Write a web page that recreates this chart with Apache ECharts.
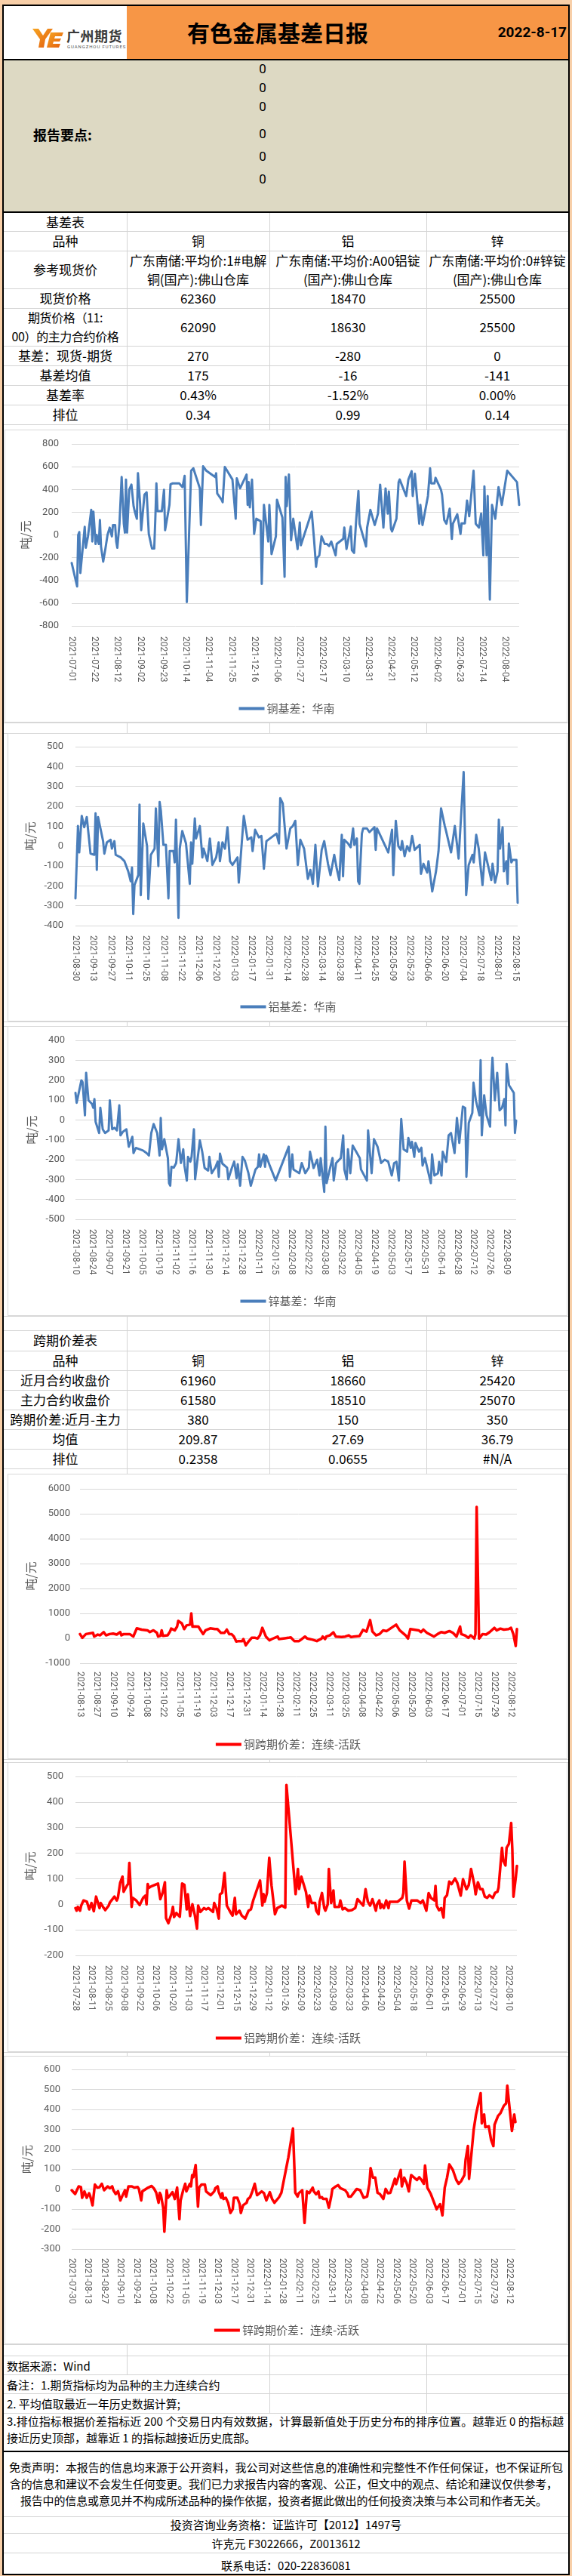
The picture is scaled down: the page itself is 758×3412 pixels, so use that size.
<!DOCTYPE html>
<html><head><meta charset="utf-8">
<script src="https://cdn.jsdelivr.net/npm/echarts/dist/echarts.min.js"></script>
<style>
html,body{margin:0;padding:0;}
body{width:758px;height:3412px;background:#F8CFA8;position:relative;overflow:hidden;font-family:"Noto Sans CJK SC","Noto Sans",sans-serif;color:#000;}
.a{position:absolute;}
.t{position:absolute;display:flex;align-items:center;justify-content:center;text-align:center;white-space:nowrap;line-height:1.45;}
.l{justify-content:flex-start;text-align:left;}
.chart{position:absolute;background:#fff;border:1px solid #D9D9D9;box-sizing:border-box;}
</style></head>
<body>
<div id="root"></div>
<script>
// ---------------- DATA ----------------
const reportDate = '2022-8-17';
const metals = ['铜', '铝', '锌'];
const spotRefs = ['广东南储:平均价:1#电解<br>铜(国产):佛山仓库', '广东南储:平均价:A00铝锭<br>(国产):佛山仓库', '广东南储:平均价:0#锌锭<br>(国产):佛山仓库'];
const spotPrice = ['62360', '18470', '25500'];
const futPrice = ['62090', '18630', '25500'];
const basis = ['270', '-280', '0'];
const basisMean = ['175', '-16', '-141'];
const basisRate = ['0.43%', '-1.52%', '0.00%'];
const basisRank = ['0.34', '0.99', '0.14'];
const nearClose = ['61960', '18660', '25420'];
const mainClose = ['61580', '18510', '25070'];
const calSpread = ['380', '150', '350'];
const calMean = ['209.87', '27.69', '36.79'];
const calRank = ['0.2358', '0.0655', '#N/A'];

// series points: [days since the chart's first date, value in 元/吨]
const cuBasis = [[0,-247],[5,-453],[6,0],[7,25],[8,-335],[12,71],[13,-113],[15,-13],[18,220],[19,-58],[20,204],[22,-80],[23,0],[25,-80],[26,131],[27,-102],[29,-235],[31,-124],[33,0],[35,64],[37,-13],[38,87],[40,87],[41,-58],[42,-113],[44,98],[46,509],[48,98],[49,20],[50,487],[51,20],[52,20],[53,398],[55,442],[57,253],[58,209],[60,142],[61,542],[63,275],[64,42],[67,353],[69,375],[71,9],[73,-80],[74,-120],[76,-120],[77,140],[78,453],[79,209],[83,209],[85,397],[86,42],[90,264],[91,446],[93,453],[99,453],[102,420],[104,520],[106,-591],[110,564],[112,586],[118,409],[119,87],[121,604],[124,564],[132,509],[133,542],[134,364],[138,309],[139,287],[141,598],[148,487],[151,142],[152,498],[155,409],[161,531],[162,264],[163,464],[164,242],[166,487],[168,9],[170,142],[174,120],[175,-431],[177,264],[181,-58],[182,264],[184,-169],[188,-13],[189,309],[194,153],[196,-369],[197,509],[198,253],[200,531],[202,-47],[204,142],[208,-124],[210,109],[211,-91],[221,204],[223,-24],[225,-280],[226,-202],[228,-180],[230,-13],[233,-80],[235,-80],[237,-98],[239,-58],[243,-180],[244,-80],[250,-35],[251,64],[253,-124],[257,75],[258,-135],[260,-158],[262,142],[264,386],[265,98],[271,-102],[272,64],[275,220],[279,87],[282,187],[284,442],[287,64],[289,409],[291,187],[292,382],[294,53],[295,31],[299,142],[301,464],[302,487],[308,342],[310,487],[313,560],[314,342],[316,538],[320,98],[321,264],[323,87],[328,342],[330,586],[331,453],[334,453],[335,502],[340,398],[341,353],[343,131],[345,98],[348,231],[350,-35],[351,98],[355,182],[358,9],[359,102],[362,102],[364,302],[366,164],[370,564],[372,98],[375,64],[377,187],[379,-180],[380,427],[382,-180],[383,342],[385,-569],[387,264],[390,142],[393,420],[396,264],[401,564],[410,464],[412,264]];

const alBasis = [[0,-263],[2,101],[3,-32],[5,152],[7,95],[9,146],[12,-38],[15,-44],[16,165],[17,-120],[18,146],[22,25],[23,-38],[25,19],[28,32],[29,-13],[31,25],[32,-44],[36,-57],[39,-76],[42,-127],[44,-177],[45,-108],[46,-342],[47,-196],[50,-146],[51,209],[52,-247],[54,114],[57,0],[58,-266],[60,-44],[63,-13],[64,190],[66,-101],[67,222],[68,177],[70,6],[72,6],[74,-263],[75,-25],[78,-25],[79,-82],[80,133],[82,-361],[83,-13],[85,76],[88,13],[91,-190],[92,19],[93,-89],[95,139],[96,38],[99,101],[101,-57],[102,-13],[105,-76],[107,38],[109,-95],[112,-57],[114,19],[115,-76],[117,19],[119,-13],[121,95],[123,-76],[125,-95],[129,-57],[130,-184],[134,152],[135,146],[137,32],[140,44],[141,-25],[143,82],[146,44],[148,51],[150,-114],[152,25],[160,63],[162,13],[163,241],[165,215],[168,-13],[171,89],[173,101],[175,127],[177,-95],[179,32],[182,-13],[185,-165],[187,-120],[189,-190],[191,6],[193,-203],[196,-19],[198,25],[201,-89],[203,-146],[206,-44],[208,-114],[210,-171],[212,57],[213,-152],[214,32],[217,13],[219,-6],[221,89],[222,6],[224,38],[225,-177],[226,-190],[228,63],[229,89],[232,89],[234,70],[238,95],[239,-19],[240,89],[242,63],[249,-32],[252,82],[253,-146],[255,127],[257,0],[259,-19],[260,25],[262,-51],[264,0],[266,-25],[268,51],[270,-19],[274,6],[275,-140],[277,-89],[280,-133],[281,-76],[284,-228],[287,-127],[289,-25],[291,190],[294,101],[295,76],[299,-32],[302,101],[305,-63],[309,373],[311,-247],[313,-95],[316,-44],[317,-82],[319,57],[321,-13],[324,-196],[326,-32],[329,-114],[331,-171],[332,-89],[334,-184],[336,-127],[337,133],[338,-13],[340,95],[341,-127],[343,-76],[344,-190],[345,13],[347,-82],[348,-70],[351,-70],[352,-285]];

const znBasis = [[0,136],[1,86],[5,199],[6,190],[8,23],[9,237],[11,98],[14,80],[15,61],[16,105],[17,-9],[20,-66],[21,61],[23,-47],[25,-66],[28,-53],[29,98],[31,-47],[33,-40],[35,-53],[37,73],[38,-78],[40,-60],[43,-47],[45,-135],[48,-85],[49,-167],[51,-141],[57,-154],[60,-167],[62,-179],[64,-66],[66,-21],[69,-66],[71,-179],[72,10],[73,-148],[75,-97],[78,-192],[79,-318],[80,-331],[81,-236],[83,-240],[85,-217],[87,-97],[89,-217],[91,-148],[92,-230],[94,-305],[95,-186],[97,-210],[98,-186],[100,-47],[101,-299],[105,-103],[107,-160],[109,-242],[112,-255],[113,-186],[115,-268],[118,-240],[120,-210],[121,-286],[122,-170],[124,-220],[128,-240],[129,-299],[132,-242],[134,-210],[136,-293],[137,-223],[139,-331],[141,-186],[143,-205],[146,-268],[148,-331],[152,-249],[154,-236],[155,-173],[156,-236],[159,-173],[160,-236],[161,-180],[164,-230],[169,-305],[180,-135],[181,-286],[183,-173],[184,-249],[189,-268],[191,-217],[194,-268],[197,-240],[198,-160],[201,-242],[204,-200],[206,-280],[207,-192],[210,-362],[211,-34],[212,-318],[215,-240],[217,-192],[218,-305],[220,-217],[224,-192],[226,-78],[227,-250],[229,-299],[230,-148],[232,-268],[234,-129],[237,-160],[240,-192],[241,-249],[246,-305],[247,-53],[250,-268],[252,-97],[255,-135],[258,-217],[261,-200],[264,-210],[267,-280],[269,-217],[271,-211],[273,-305],[275,4],[277,-148],[280,-160],[281,-91],[283,-141],[284,-110],[286,-186],[287,-116],[290,-160],[292,-140],[293,-230],[295,-192],[300,-318],[301,-173],[303,-280],[306,-268],[307,-211],[309,-280],[310,-160],[313,-211],[315,-78],[317,-66],[320,-167],[322,10],[324,-116],[327,67],[329,60],[330,-286],[332,-15],[335,35],[336,187],[338,98],[341,23],[342,300],[343,-78],[345,124],[347,23],[350,-34],[351,199],[352,313],[354,98],[356,237],[358,48],[360,60],[362,105],[363,-28],[364,281],[366,174],[370,136],[371,-66],[372,-3]];

const cuSpread = [[0,170],[2,20],[5,170],[11,220],[12,70],[15,150],[17,120],[20,250],[22,120],[25,170],[26,120],[28,190],[31,150],[34,250],[35,120],[37,170],[42,170],[45,70],[48,400],[52,350],[57,320],[59,250],[62,320],[65,220],[66,70],[68,100],[69,320],[70,100],[74,120],[76,270],[77,390],[80,320],[82,470],[83,700],[86,600],[88,370],[90,520],[93,550],[94,1000],[95,470],[97,480],[100,470],[102,320],[104,170],[106,320],[110,400],[114,370],[116,370],[119,220],[122,220],[124,350],[126,170],[128,170],[130,70],[132,-130],[134,-110],[137,-110],[138,-30],[140,-280],[142,-150],[145,20],[148,20],[150,-10],[152,120],[154,420],[157,70],[160,-80],[162,-30],[167,70],[168,-30],[173,0],[176,20],[178,40],[181,-110],[185,-110],[187,-40],[190,70],[192,-10],[194,-30],[196,-50],[200,-110],[204,-10],[205,70],[207,-30],[208,70],[211,120],[214,240],[216,70],[221,50],[224,70],[227,120],[229,50],[231,70],[236,90],[239,340],[242,270],[245,730],[247,270],[250,120],[253,170],[256,320],[259,290],[267,550],[270,320],[271,370],[275,120],[277,-10],[279,370],[282,350],[286,320],[288,250],[290,350],[293,220],[299,70],[302,170],[305,250],[308,220],[312,290],[315,220],[318,70],[321,470],[322,170],[325,120],[328,20],[330,120],[331,70],[333,-10],[334,170],[335,5270],[337,-10],[340,170],[343,150],[346,250],[350,420],[352,320],[355,390],[358,350],[362,370],[364,420],[366,170],[368,-310],[369,370]];

const alSpread = [[0,-15],[1,-25],[2,-10],[4,-25],[5,-5],[7,15],[10,10],[12,-20],[14,5],[16,-27],[18,30],[21,-15],[22,5],[24,-10],[26,-23],[29,-5],[30,7],[34,30],[36,15],[37,25],[39,84],[41,108],[42,49],[45,74],[46,80],[47,162],[49,-10],[50,25],[53,15],[56,-3],[59,25],[61,34],[62,0],[63,79],[64,64],[66,70],[72,81],[74,20],[76,45],[78,86],[79,-54],[81,-74],[84,-34],[85,-10],[86,-50],[88,-34],[89,-40],[91,-49],[93,81],[95,76],[97,-20],[98,39],[100,-46],[102,0],[104,-40],[106,-95],[107,-5],[109,-30],[112,-15],[114,-20],[116,-15],[120,-30],[121,5],[123,-15],[125,-56],[126,39],[128,45],[130,123],[132,-5],[133,0],[135,-30],[137,-44],[139,25],[140,-39],[143,-25],[145,-44],[148,-56],[151,-25],[153,-20],[155,15],[158,54],[161,93],[163,-5],[164,40],[165,10],[167,44],[169,182],[171,74],[174,-39],[176,-15],[180,-5],[183,-13],[184,467],[192,40],[194,138],[195,60],[197,108],[201,49],[203,-10],[204,34],[206,5],[209,5],[210,-25],[212,-39],[213,10],[215,44],[217,-15],[218,-25],[220,0],[221,138],[223,5],[225,54],[226,-10],[230,-10],[231,15],[233,-20],[235,-15],[238,-25],[241,-23],[244,-15],[246,20],[249,5],[251,-5],[253,59],[255,10],[257,-5],[259,20],[262,-25],[263,0],[265,15],[266,-15],[267,0],[269,-15],[271,15],[273,-15],[274,10],[281,10],[285,25],[286,44],[287,167],[289,15],[291,-17],[293,15],[298,15],[301,5],[303,15],[306,-25],[308,44],[310,25],[313,15],[314,72],[315,-5],[317,-23],[319,-15],[321,-52],[322,25],[324,35],[326,89],[328,79],[331,101],[333,84],[336,34],[338,98],[339,85],[341,59],[343,75],[345,138],[348,74],[349,39],[351,86],[353,59],[355,59],[357,30],[359,25],[361,35],[364,25],[366,45],[368,49],[369,65],[370,118],[372,221],[373,172],[375,152],[376,221],[378,236],[380,318],[381,215],[382,30],[384,104],[385,150]];

const znSpread = [[0,-5],[3,-24],[6,14],[8,10],[9,-43],[11,-11],[13,-43],[15,-20],[16,-35],[18,-81],[20,23],[22,8],[24,10],[26,27],[28,-5],[31,14],[33,5],[35,14],[36,-5],[38,-24],[40,-10],[42,-56],[44,-30],[46,-5],[47,-37],[49,14],[52,14],[54,8],[57,11],[58,1],[60,-56],[61,-11],[66,8],[69,16],[71,4],[73,-18],[75,-68],[76,-18],[77,-30],[79,-93],[80,-213],[82,-5],[83,-43],[85,-30],[87,-15],[89,-49],[91,8],[93,-150],[94,-56],[96,-10],[98,27],[99,-11],[102,27],[103,14],[104,71],[105,60],[107,121],[109,-87],[110,8],[112,23],[115,23],[116,-11],[120,-30],[123,-11],[124,5],[126,14],[127,-15],[129,-43],[130,-20],[131,-49],[133,-43],[135,-68],[137,-119],[139,-100],[140,-43],[143,-43],[145,-75],[146,-119],[148,-80],[151,-68],[152,-50],[154,-40],[156,-10],[158,27],[160,-30],[164,-11],[165,-5],[166,-20],[168,-56],[171,-15],[173,-49],[175,-68],[179,-40],[181,-18],[182,-25],[187,159],[191,304],[193,-18],[195,-37],[196,-20],[199,-5],[201,-169],[203,-11],[205,-20],[206,-15],[208,8],[209,-11],[211,-25],[213,-11],[214,-43],[216,-40],[217,-49],[220,-49],[222,-93],[224,-37],[225,1],[228,14],[230,20],[232,5],[236,-5],[238,-20],[239,-37],[241,-37],[242,-30],[246,1],[249,-5],[252,-43],[255,-37],[257,27],[258,106],[260,58],[262,58],[264,-18],[266,-24],[269,-49],[271,1],[273,-20],[275,-18],[279,52],[280,25],[282,60],[284,96],[285,14],[287,58],[289,33],[291,-11],[293,71],[294,65],[298,46],[300,60],[302,46],[304,27],[305,119],[307,8],[310,-24],[315,-100],[318,-75],[319,-70],[320,-131],[322,8],[324,58],[326,124],[329,96],[332,46],[334,27],[336,39],[339,71],[340,147],[342,216],[343,52],[347,298],[349,374],[353,481],[354,330],[356,374],[357,311],[360,315],[362,248],[364,216],[365,323],[368,367],[370,380],[373,418],[375,430],[376,519],[378,405],[380,292],[382,374],[383,336]];

const chartDefs = [
  {name:'铜基差：华南', start:'2021-07-01', end:'2022-08-17', labelEvery:21, min:-800, max:800, step:200, color:'#4A7EBB', width:3, pts:cuBasis,
   box:[6,569,746,388], grid:[88,65,18,129], ylm:17, xlm:14, ng:49, leg:356},
  {name:'铝基差：华南', start:'2021-08-30', end:'2022-08-17', labelEvery:14, min:-400, max:500, step:100, color:'#4A7EBB', width:3, pts:alBasis,
   box:[10,971,742,382], grid:[89,67,17,128], ylm:16, xlm:13, ng:47, leg:349},
  {name:'锌基差：华南', start:'2021-08-10', end:'2022-08-17', labelEvery:14, min:-500, max:400, step:100, color:'#4A7EBB', width:3, pts:znBasis,
   box:[10,1359,742,384], grid:[89,69,18,129], ylm:14, xlm:13, ng:47, leg:351},
  {name:'铜跨期价差：连续-活跃', start:'2021-08-13', end:'2022-08-17', labelEvery:14, min:-1000, max:6000, step:1000, color:'#FF0000', width:3.5, pts:cuSpread,
   box:[10,1952,742,378], grid:[95,68,19,128], ylm:13, xlm:11, ng:54, leg:345},
  {name:'铝跨期价差：连续-活跃', start:'2021-07-28', end:'2022-08-17', labelEvery:14, min:-200, max:500, step:100, color:'#FF0000', width:3.5, pts:alSpread,
   box:[10,2334,742,384], grid:[89,68,18,129], ylm:16, xlm:13, ng:48, leg:352},
  {name:'锌跨期价差：连续-活跃', start:'2021-07-30', end:'2022-08-17', labelEvery:14, min:-300, max:600, step:100, color:'#FF0000', width:3.5, pts:znSpread,
   box:[6,2723,746,382], grid:[88,70,17,127], ylm:15, xlm:12, ng:47, leg:350}
];

// ---------------- LAYOUT HELPERS ----------------
const root = document.getElementById('root');
function box(l, t, w, h, css) {
  const d = document.createElement('div'); d.className = 'a';
  d.style.cssText = `left:${l}px;top:${t}px;width:${w}px;height:${h}px;` + (css || '');
  root.appendChild(d); return d;
}
function txt(l, t, w, h, html, css, cls) {
  const d = document.createElement('div'); d.className = 't' + (cls ? ' ' + cls : '');
  d.style.cssText = `left:${l}px;top:${t}px;width:${w}px;height:${h}px;` + (css || '');
  d.innerHTML = '<span>' + html + '</span>'; root.appendChild(d); return d;
}
// stretch a single text line to a target width (like Excel's justified cells)
function fit(d, target) {
  const s = d.firstChild; s.style.letterSpacing = '0px';
  const w = s.getBoundingClientRect().width; const n = s.textContent.length;
  const ls = (target - w) / n;
  s.style.letterSpacing = ls.toFixed(3) + 'px';
  if (!d.classList.contains('l')) s.style.marginRight = (-ls).toFixed(3) + 'px';
}
const G = '#D4D4D4';
function hl(y, x1, x2, c, th) { box(x1, y, x2 - x1, th || 1, 'background:' + (c || G)); }
function vl(x, y1, y2, c) { box(x, y1, 1, y2 - y1, 'background:' + (c || G)); }

// sheet
box(3, 6, 752, 3405, 'background:#fff;border:2px solid #000;box-sizing:border-box;');
// header
box(168, 8, 585, 70, 'background:#F79646;');
hl(78, 5, 753, '#000', 2);
txt(168, 8, 400, 70, '有色金属基差日报', 'font-size:30px;font-weight:bold;');
txt(560, 8, 191, 70, reportDate, 'font-size:19px;font-weight:bold;font-family:Roboto,sans-serif;justify-content:flex-end;');
// logo
const lg = document.createElement('div'); lg.className = 'a'; lg.style.cssText = 'left:40px;top:34px;width:46px;height:32px;';
lg.innerHTML = '<svg width="46" height="32" viewBox="0 0 46 32"><defs><linearGradient id="og" x1="0" y1="0" x2="1" y2="1"><stop offset="0" stop-color="#F7A623"/><stop offset="1" stop-color="#E25B0C"/></linearGradient></defs>' +
  '<path d="M3 4 L11 4 L17 13 L23 4 L30 4 L20 18 L18 29 L11 29 L13 18 Z" fill="url(#og)"/>' +
  '<path d="M27 9 L44 9 L42 14 L33 14 L32 17 L41 17 L39 21 L31 21 L30 24 L40 24 L38 29 L22 29 Z" fill="url(#og)"/></svg>';
root.appendChild(lg);
txt(88, 36, 80, 22, '广州期货', 'font-size:18px;font-weight:bold;color:#3a3a3a;justify-content:flex-start;letter-spacing:0.5px;');
txt(89, 58, 80, 8, 'GUANGZHOU FUTURES', 'font-size:6px;color:#555;justify-content:flex-start;letter-spacing:0.9px;font-family:Roboto,sans-serif;line-height:8px;');
// report points
box(5, 80, 748, 200, 'background:#DDD9C3;');
hl(280, 5, 753, '#000', 2);
txt(44, 166, 120, 24, '报告要点:', 'font-size:18px;font-weight:bold;justify-content:flex-start;');
[91, 116, 141, 177, 207, 237].forEach(y => txt(318, y - 12, 60, 24, '0', 'font-size:17px;font-family:Roboto,sans-serif;'));

// column grid lines behind everything
vl(168, 282, 3146); vl(357, 282, 3196); vl(565, 282, 3196);

// table 1
const C = [[5, 163], [168, 189], [357, 208], [565, 188]];
function row(y, h, cells, css) {
  hl(y + h, 5, 753);
  cells.forEach((c, i) => { if (c !== null && c !== undefined) txt(C[i][0], y, C[i][1], h, c, 'font-size:17px;' + (css && css[i] ? css[i] : '')); });
}
row(282, 24, ['基差表', '', '', '']);
row(306, 26, ['品种'].concat(metals));
row(332, 50, ['参考现货价'].concat(spotRefs), [null, 'line-height:25px;', 'line-height:25px;', 'line-height:25px;']);
row(382, 26, ['现货价格'].concat(spotPrice));
row(408, 50, ['期货价格（11:<br>00）的主力合约价格'].concat(futPrice), ['line-height:25px;font-size:16px;letter-spacing:-0.4px;']);
row(458, 26, ['基差：现货-期货'].concat(basis));
row(484, 26, ['基差均值'].concat(basisMean));
row(510, 26, ['基差率'].concat(basisRate));
row(536, 26, ['排位'].concat(basisRank));

// gap lines between charts
[957, 971, 1353, 1359, 2330, 2334, 2718, 2723].forEach(y => hl(y, 5, 753));

// table 2
hl(1743, 5, 753);
hl(1762, 5, 753);
row(1762, 27, ['跨期价差表', '', '', '']);
row(1789, 26, ['品种'].concat(metals));
row(1815, 26, ['近月合约收盘价'].concat(nearClose));
row(1841, 26, ['主力合约收盘价'].concat(mainClose));
row(1867, 26, ['跨期价差:近月-主力'].concat(calSpread));
row(1893, 26, ['均值'].concat(calMean));
row(1919, 26, ['排位'].concat(calRank));

// footer
hl(3105, 5, 753); hl(3120, 5, 753); hl(3145, 5, 753); hl(3170, 5, 753); hl(3196, 5, 753);
hl(3246, 5, 753, '#000', 2); hl(3333, 5, 753); hl(3355, 5, 753); hl(3381, 5, 753);
const F = 'font-size:15px;';
txt(9, 3121, 300, 25, '数据来源：Wind', F, 'l');
txt(9, 3146, 400, 25, '备注：1.期货指标均为品种的主力连续合约', F, 'l');
txt(9, 3171, 400, 25, '2. 平均值取最近一年历史数据计算;', F, 'l');
fit(txt(9, 3196, 744, 22, '3.排位指标根据价差指标近 200 个交易日内有效数据，计算最新值处于历史分布的排序位置。越靠近 0 的指标越', F, 'l'), 738);
txt(9, 3218, 600, 22, '接近历史顶部，越靠近 1 的指标越接近历史底部。', F, 'l');
fit(txt(5, 3257, 748, 22, '免责声明：本报告的信息均来源于公开资料，我公司对这些信息的准确性和完整性不作任何保证，也不保证所包', F), 734);
fit(txt(2, 3279, 748, 22, '含的信息和建议不会发生任何变更。我们已力求报告内容的客观、公正，但文中的观点、结论和建议仅供参考，', F), 726);
fit(txt(2, 3301, 748, 22, '报告中的信息或意见并不构成所述品种的操作依据，投资者据此做出的任何投资决策与本公司和作者无关。', F), 698);
txt(5, 3333, 748, 22, '投资咨询业务资格：证监许可【2012】1497号', F);
txt(5, 3357, 748, 24, '许克元 F3022666，Z0013612', F);
txt(5, 3385, 748, 26, '联系电话：020-22836081', F);

// ---------------- CHARTS ----------------
function calendar(start, end) {
  const out = []; const p = s => s.split('-').map(Number);
  const [a, b, c] = p(start), [x, y, z] = p(end);
  let t = Date.UTC(a, b - 1, c); const e = Date.UTC(x, y - 1, z);
  while (t <= e) { const d = new Date(t); out.push(d.toISOString().slice(0, 10)); t += 86400000; }
  return out;
}
const LBL = '#595959';
chartDefs.forEach(def => {
  const el = document.createElement('div'); el.className = 'chart';
  el.style.cssText = `left:${def.box[0]}px;top:${def.box[1]}px;width:${def.box[2]}px;height:${def.box[3]}px;`;
  root.appendChild(el);
  const cats = calendar(def.start, def.end);
  const ch = echarts.init(el, null, {renderer: 'canvas', width: def.box[2], height: def.box[3]});
  ch.setOption({
    animation: false,
    grid: {left: def.grid[0], right: def.grid[1], top: def.grid[2], bottom: def.grid[3], containLabel: false, outerBoundsMode: 'none'},
    legend: {data: [def.name], left: 'center', top: def.leg, icon: 'rect', itemWidth: 34, itemHeight: 4, itemGap: 0,
      textStyle: {fontSize: 15, color: LBL, fontFamily: '"Noto Sans CJK SC", sans-serif', padding: [0, 0, 0, -2]}},
    xAxis: {type: 'category', data: cats, boundaryGap: false,
      axisLine: {show: false}, axisTick: {show: false}, splitLine: {show: false},
      axisLabel: {interval: def.labelEvery - 1, rotate: -90, margin: def.xlm, fontSize: 12, color: LBL, fontFamily: 'Roboto, sans-serif', hideOverlap: false}},
    yAxis: {type: 'value', min: def.min, max: def.max, interval: def.step,
      name: '吨/元', nameLocation: 'middle', nameGap: def.ng,
      nameTextStyle: {fontSize: 16, color: LBL, fontFamily: '"Noto Sans CJK SC", sans-serif'},
      axisLine: {show: false}, axisTick: {show: false},
      axisLabel: {fontSize: 13, color: LBL, margin: def.ylm, fontFamily: 'Roboto, sans-serif', formatter: v => String(v)},
      splitLine: {lineStyle: {color: '#D9D9D9', width: 1}}},
    series: [{type: 'line', name: def.name, data: def.pts.map(p => [p[0], p[1]]), symbol: 'none', showSymbol: false,
      connectNulls: true, lineStyle: {width: def.width, color: def.color, cap: 'round', join: 'round'}, itemStyle: {color: def.color}}]
  });
});
</script>
</body></html>
